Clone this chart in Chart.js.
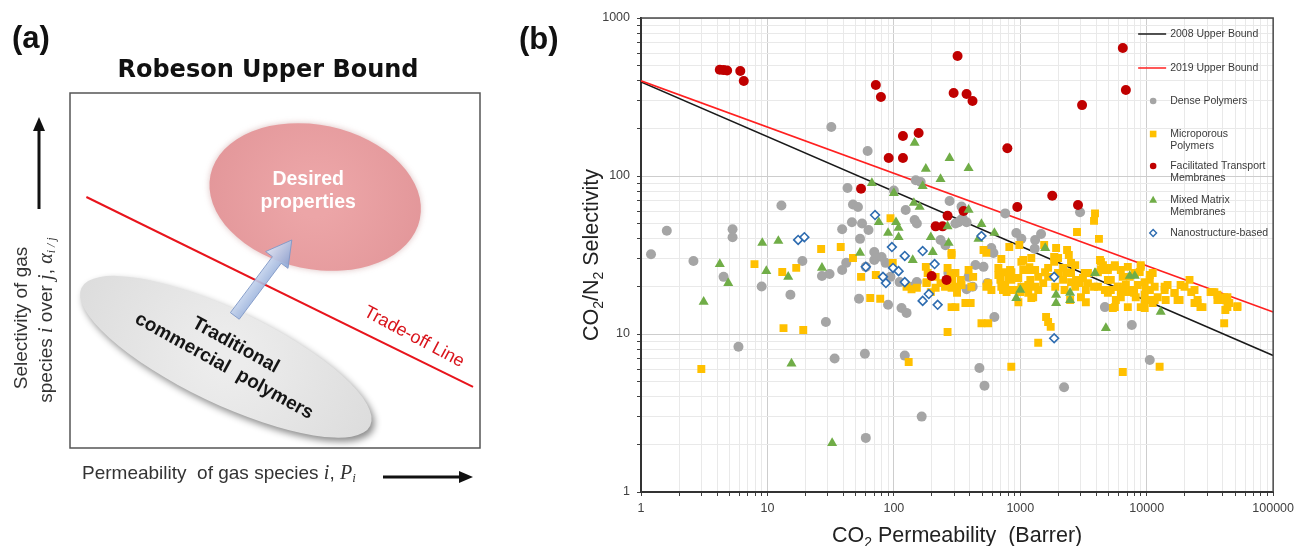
<!DOCTYPE html>
<html lang="en">
<head>
  <meta charset="UTF-8">
  <title>Robeson Upper Bound and CO2/N2 separation performance</title>
  <script src="https://cdn.jsdelivr.net/npm/chart.js"></script>
  <style>
    body {
      margin: 0;
      background: #fff;
      font-family: "Liberation Sans", Arial, sans-serif;
    }
    .figure {
      position: relative;
      width: 1299px;
      height: 546px;
    }
    #panelA { position: absolute; left: 0; top: 0; }
    #panelB { position: absolute; left: 500px; top: 0; }
  </style>
</head>
<body>
  <div class="figure">
    <canvas id="panelA" width="500" height="546"></canvas>
    <canvas id="panelB" width="799" height="546"></canvas>
  </div>

  <script>
    // ---- panel (b) data: [CO2 permeability (Barrer), CO2/N2 selectivity] ----
    const xDecades = [1, 10, 100, 1000, 10000, 100000];
    const yDecades = [1, 10, 100, 1000];

    const bound2008 = [[1, 394], [100000, 7.3]];
    const bound2019 = [[1, 400], [100000, 13.8]];

    const densePolymers = [
      [1.2, 32], [1.6, 45], [2.6, 29], [4.5, 23], [5.3, 46], [5.3, 41], [9, 20], [12.9, 65],
      [18.9, 29], [15.2, 17.7], [5.9, 8.3], [29, 11.9], [27, 23.3], [31, 24], [34, 7], [32, 204],
      [60, 2.2], [166, 3], [59, 7.5], [122, 7.3], [53, 16.7], [90, 15.3], [115, 14.6], [126, 13.6],
      [60, 26.6], [39, 25.4], [62, 144], [43, 84], [47.5, 66], [52, 63.7], [149, 94], [163, 91.6],
      [100, 81], [46.6, 51], [56, 50], [39, 46], [54, 40], [70, 33], [70, 29.4], [42, 28.2],
      [124, 61], [146, 52.6], [152, 50], [80, 30.7], [86, 28.2], [94, 23], [111, 21.3], [276, 69.5],
      [343, 64], [234, 39.4], [256, 36.5], [325, 51], [152, 21.3], [138, 19.9], [339, 52.6], [376, 51],
      [760, 58], [930, 43.6], [1020, 40], [1310, 39.4], [1460, 43], [1300, 34.7], [2970, 59], [590, 35],
      [613, 32.6], [512, 26.6], [442, 27.3], [376, 19.2], [550, 21], [624, 12.8], [4670, 14.8], [7620, 11.4],
      [10570, 6.85], [475, 6.1], [521, 4.7], [2220, 4.6], [390, 23], [420, 19.9], [307, 50], [350, 54],
      [63, 45.5], [270, 24.3]
    ];

    const microporous = [
      [7.9, 27.7], [13.1, 24.7], [16.9, 26.2], [26.6, 34.5], [13.4, 10.9], [19.2, 10.6], [3, 6], [38, 35.5],
      [47.5, 30.3], [55, 23], [72, 23.6], [65, 16.9], [78, 16.7], [94, 54], [98, 28.2], [126, 19.9],
      [138, 19.2], [152, 19.6], [179, 26.6], [185, 24.3], [182, 21.3], [214, 23], [234, 21], [286, 32.6],
      [266, 26.2], [307, 24.3], [339, 22], [286, 19.6], [316, 18.2], [343, 20.4], [307, 14.8], [368, 15.7],
      [266, 10.3], [131, 6.65], [286, 31.6], [281, 23.6], [307, 19.9], [390, 25.4], [424, 23], [410, 19.9],
      [286, 14.8], [405, 15.7], [493, 11.7], [557, 11.7], [849, 6.2], [1386, 8.8], [1600, 12.8], [1660, 11.9],
      [1740, 11.1], [6470, 5.75], [12650, 6.2], [696, 22], [805, 22.6], [539, 19.9], [591, 19], [708, 19.9],
      [1000, 18.4], [1156, 18.2], [1313, 19.9], [1518, 21], [1222, 16.9], [557, 21], [779, 18.4], [908, 19],
      [966, 15.9], [3900, 58], [3830, 52], [2810, 44.2], [4190, 40], [1545, 36.6], [1920, 35], [2345, 34],
      [2420, 31.6], [819, 35.5], [982, 36.6], [512, 34], [539, 32.6], [708, 29.8], [1056, 29.4], [1222, 30.3],
      [1853, 30.7], [1853, 28.6], [1990, 30.3], [730, 24.6], [830, 25.4], [735, 19.6], [850, 22], [1020, 28.6],
      [1056, 25.4], [1180, 26.5], [1020, 19.9], [1200, 22], [1310, 25.4], [1265, 17.1], [1386, 19], [1660, 23],
      [1890, 19.9], [2180, 22], [2300, 24.6], [2520, 28.2], [2240, 19], [2720, 19.9], [2480, 16.4], [3020, 17.1],
      [3300, 15.9], [2760, 22], [3240, 24.3], [3430, 21], [4110, 19.9], [4350, 25.4], [4930, 22], [5200, 19],
      [5700, 16.4], [5400, 14.6], [6240, 17.1], [6840, 20.4], [7350, 23], [8970, 26.6], [9640, 21.3], [10570, 23.6],
      [11560, 19.9], [10185, 16.4], [12210, 17.1], [13860, 19], [14130, 16.4], [16600, 18.2], [18200, 16.4], [21800, 22],
      [23880, 19], [25230, 16.4], [27620, 14.8], [34300, 18.4], [36260, 16.4], [41000, 17.1], [43470, 14.8], [52120, 15],
      [41000, 11.7], [4345, 28.6], [4930, 25.4], [5596, 26.6], [6470, 23], [5915, 19.9], [4670, 19], [7480, 19],
      [8190, 17.1], [9640, 16.4], [8970, 14.8], [11150, 15.7], [14620, 20.4], [18530, 20.4], [17540, 16.4], [23880, 15.7],
      [26610, 14.8], [33100, 18.4], [39630, 16.4], [41870, 14.2], [8800, 24.7], [11150, 24.3], [10570, 22], [4266, 29.4],
      [4507, 27.3], [4930, 26.2], [5596, 27.3], [6240, 25.4], [7090, 26.6], [8050, 24.3], [8970, 27.3], [671, 26.2],
      [1156, 25.4], [1570, 24.6], [2180, 26.2], [2720, 27.3], [3430, 24.3], [2960, 21], [3830, 19.9], [4930, 18.2],
      [6240, 19], [7950, 18.2], [9800, 19], [2520, 21.3], [3300, 19], [290, 22], [254, 19.9], [214, 19.6],
      [196, 18.4], [181, 21], [671, 23.6], [850, 24.6], [760, 20.4], [964, 22.6], [1156, 20.4], [1386, 23],
      [805, 19], [730, 19], [1660, 26.2], [1990, 24.3], [2520, 24.3], [3130, 22.6], [4110, 24.6], [5200, 22],
      [5910, 19.9], [7090, 18.4], [8500, 20.4], [9640, 17.7], [10600, 19], [5600, 14.8], [7090, 14.8], [9640, 14.6],
      [11560, 16.4], [13860, 19.9], [16600, 18.2], [19900, 19.9], [22500, 18.4], [25230, 15.7], [32000, 18.4], [36260, 17.7],
      [43470, 17.1], [45000, 15.7], [52120, 14.8]
    ];

    const facilitated = [
      [4.2, 470], [4.5, 468], [4.8, 465], [6.1, 462], [6.5, 399], [72, 377], [79, 316], [118, 179],
      [157, 187], [91, 130], [118, 130], [55, 83], [266, 56], [214, 48], [243, 48], [199, 23.3],
      [261, 22], [1790, 75], [2860, 65.5], [947, 63.7], [319, 575], [297, 335], [376, 330], [419, 298],
      [790, 150], [3080, 281], [6470, 646], [6840, 350], [356, 60]
    ];

    const mixedMatrix = [
      [3.13, 16], [4.2, 27.7], [4.9, 21], [9.1, 37.7], [12.2, 38.8], [9.8, 25], [14.6, 23], [27, 26.2],
      [15.5, 6.5], [32.5, 2.04], [146, 162], [276, 130], [179, 111], [234, 95.7], [169, 86.4], [67, 90.3],
      [100, 78], [144, 67.5], [160, 63.7], [76, 51], [104, 51], [90, 43.6], [109, 41], [109, 46.9],
      [196, 41], [266, 48], [271, 37.7], [203, 33], [141, 29.4], [54, 32.6], [390, 112], [390, 61],
      [493, 49.7], [624, 43.6], [467, 40], [1574, 35], [3900, 24.3], [7345, 23.3], [8050, 23.3], [1000, 19],
      [930, 16.9], [1920, 17.7], [1920, 15.7], [2477, 18.2], [2477, 16.4], [4755, 10.9], [12900, 13.8]
    ];

    const nanostructure = [
      [17.5, 39.4], [19.6, 41], [71, 56.6], [96.5, 35.5], [122, 31.2], [169, 33.5], [210, 27.7], [60, 26.6],
      [82, 23], [86.5, 21], [98.5, 26.2], [109, 25], [122, 21.3], [169, 16.2], [189, 17.9], [222, 15.3],
      [493, 41.7], [1853, 23], [1853, 9.4]
    ];

    // ---- panel (a) schematic, in 0..10 box units ----
    const tradeOffLine = [[0.4, 7.07], [9.83, 1.72]];
    const desiredCentre = [5.98, 7.07];
    const commercialCentre = [3.8, 2.57];
    const arrowTail = [4.02, 3.72];
    const arrowTip = [5.41, 5.86];

    const pts = arr => arr.map(([x, y]) => ({ x, y }));

    function logGrid(maxExp) {
      const out = [];
      for (let e = 0; e < maxExp; e++) {
        for (let m = 1; m < 10; m++) out.push(m * Math.pow(10, e));
      }
      out.push(Math.pow(10, maxExp));
      return out;
    }

    function drawRich(ctx, parts, x, y, align) {
      let w = 0;
      parts.forEach(p => { ctx.font = p.font; w += ctx.measureText(p.text).width; });
      let cx = align === 'center' ? x - w / 2 : x;
      ctx.textAlign = 'left';
      parts.forEach(p => {
        ctx.font = p.font;
        ctx.fillText(p.text, cx, y + (p.dy || 0));
        cx += ctx.measureText(p.text).width;
      });
    }

    function arrowHead(ctx, x0, y0, x1, y1, w, len) {
      const a = Math.atan2(y1 - y0, x1 - x0);
      ctx.beginPath();
      ctx.moveTo(x0, y0);
      ctx.lineTo(x1 - Math.cos(a) * len, y1 - Math.sin(a) * len);
      ctx.stroke();
      ctx.beginPath();
      ctx.moveTo(x1, y1);
      ctx.lineTo(x1 - Math.cos(a) * len - Math.sin(a) * w, y1 - Math.sin(a) * len + Math.cos(a) * w);
      ctx.lineTo(x1 - Math.cos(a) * len + Math.sin(a) * w, y1 - Math.sin(a) * len - Math.cos(a) * w);
      ctx.closePath();
      ctx.fill();
    }

    // ---------- panel (a) ----------
    const sans = '"Liberation Sans", Arial, sans-serif';
    const serif = '"Liberation Serif", "DejaVu Serif", serif';

    const schemeA = {
      id: 'schemeA',
      beforeDatasetsDraw(chart) {
        const { ctx, scales: { x, y } } = chart;

        // desired properties region
        ctx.save();
        ctx.translate(x.getPixelForValue(desiredCentre[0]), y.getPixelForValue(desiredCentre[1]));
        ctx.rotate(12 * Math.PI / 180);
        let g = ctx.createRadialGradient(0, 0, 20, 0, 0, 110);
        g.addColorStop(0, '#eca5a7');
        g.addColorStop(1, '#e3979a');
        ctx.fillStyle = g;
        ctx.shadowColor = 'rgba(160,80,80,0.35)';
        ctx.shadowBlur = 6;
        ctx.beginPath();
        ctx.ellipse(0, 0, 107, 72, 0, 0, Math.PI * 2);
        ctx.fill();
        ctx.restore();

        // traditional commercial polymers region
        ctx.save();
        ctx.translate(x.getPixelForValue(commercialCentre[0]), y.getPixelForValue(commercialCentre[1]));
        ctx.rotate(25.5 * Math.PI / 180);
        g = ctx.createRadialGradient(0, 0, 20, 0, 0, 165);
        g.addColorStop(0, '#ececec');
        g.addColorStop(1, '#dcdcdc');
        ctx.fillStyle = g;
        ctx.shadowColor = 'rgba(0,0,0,0.45)';
        ctx.shadowBlur = 7;
        ctx.shadowOffsetX = 3;
        ctx.shadowOffsetY = 4;
        ctx.beginPath();
        ctx.ellipse(0, 0, 160, 47, 0, 0, Math.PI * 2);
        ctx.fill();
        ctx.restore();
      },
      afterDatasetsDraw(chart) {
        const { ctx, chartArea: a, scales: { x, y } } = chart;
        ctx.save();

        // blue arrow
        const tx = x.getPixelForValue(arrowTail[0]), ty = y.getPixelForValue(arrowTail[1]);
        const hx = x.getPixelForValue(arrowTip[0]), hy = y.getPixelForValue(arrowTip[1]);
        const L = Math.hypot(hx - tx, hy - ty);
        const ux = (hx - tx) / L, uy = (hy - ty) / L, nx = -uy, ny = ux;
        const sw = 5.5, hw = 14, hl = 25;
        const bx = hx - ux * hl, by = hy - uy * hl;
        ctx.beginPath();
        ctx.moveTo(tx + nx * sw, ty + ny * sw);
        ctx.lineTo(bx + nx * sw, by + ny * sw);
        ctx.lineTo(bx + nx * hw, by + ny * hw);
        ctx.lineTo(hx, hy);
        ctx.lineTo(bx - nx * hw, by - ny * hw);
        ctx.lineTo(bx - nx * sw, by - ny * sw);
        ctx.lineTo(tx - nx * sw, ty - ny * sw);
        ctx.closePath();
        const ag = ctx.createLinearGradient(tx - nx * hw, ty - ny * hw, tx + nx * hw, ty + ny * hw);
        ag.addColorStop(0, '#dde7f7');
        ag.addColorStop(1, '#86a2d4');
        ctx.globalAlpha = 0.9;
        ctx.fillStyle = ag;
        ctx.fill();
        ctx.strokeStyle = '#7f98c6';
        ctx.lineWidth = 1;
        ctx.stroke();
        ctx.globalAlpha = 1;

        // texts inside the schematic
        ctx.textBaseline = 'middle';
        ctx.textAlign = 'center';
        ctx.fillStyle = '#ffffff';
        ctx.font = 'bold 19.5px ' + sans;
        const dx = x.getPixelForValue(desiredCentre[0]) - 7, dy = y.getPixelForValue(desiredCentre[1]) - 6;
        ctx.fillText('Desired', dx, dy - 11);
        ctx.fillText('properties', dx, dy + 12);

        ctx.save();
        ctx.translate(x.getPixelForValue(commercialCentre[0]) + 4, y.getPixelForValue(commercialCentre[1]) - 1);
        ctx.rotate(29 * Math.PI / 180);
        ctx.fillStyle = '#151515';
        ctx.font = 'bold 19px ' + sans;
        ctx.fillText('Traditional', 0, -12);
        ctx.fillText('commercial  polymers', 0, 12);
        ctx.restore();

        ctx.save();
        ctx.translate(414, 337);
        ctx.rotate(28 * Math.PI / 180);
        ctx.fillStyle = '#d9141c';
        ctx.font = '18px ' + sans;
        ctx.fillText('Trade-off Line', 0, 0);
        ctx.restore();

        // frame
        ctx.strokeStyle = '#555';
        ctx.lineWidth = 1.5;
        ctx.strokeRect(a.left, a.top, a.right - a.left, a.bottom - a.top);

        // panel letter and title
        ctx.fillStyle = '#111';
        ctx.textAlign = 'left';
        ctx.font = 'bold 31px ' + sans;
        ctx.fillText('(a)', 12, 39);
        ctx.textAlign = 'center';
        ctx.font = 'bold 24px "DejaVu Sans", sans-serif';
        ctx.fillText('Robeson Upper Bound', 268, 71);

        // axis labels with arrows
        ctx.fillStyle = '#333';
        ctx.strokeStyle = '#111';
        drawRich(ctx, [
          { text: 'Permeability  of gas species ', font: '19px ' + sans },
          { text: 'i', font: 'italic 20px ' + serif },
          { text: ', ', font: '19px ' + sans },
          { text: 'P', font: 'italic 20px ' + serif },
          { text: 'i', font: 'italic 13px ' + serif, dy: 5 }
        ], 82, 474, 'left');
        ctx.fillStyle = '#111';
        ctx.lineWidth = 3;
        arrowHead(ctx, 383, 477, 473, 477, 6, 14);
        arrowHead(ctx, 39, 209, 39, 117, 6, 14);

        ctx.fillStyle = '#333';
        ctx.save();
        ctx.translate(22, 318);
        ctx.rotate(-Math.PI / 2);
        drawRich(ctx, [{ text: 'Selectivity of gas', font: '19px ' + sans }], 0, 0, 'center');
        ctx.restore();
        ctx.save();
        ctx.translate(47, 320);
        ctx.rotate(-Math.PI / 2);
        drawRich(ctx, [
          { text: 'species ', font: '19px ' + sans },
          { text: 'i', font: 'italic 20px ' + serif },
          { text: ' over ', font: '19px ' + sans },
          { text: 'j', font: 'italic 20px ' + serif },
          { text: ', ', font: '19px ' + sans },
          { text: 'α', font: 'italic 20px ' + serif },
          { text: 'i / j', font: 'italic 12px ' + serif, dy: 5 }
        ], 0, 0, 'center');
        ctx.restore();

        ctx.restore();
      }
    };

    new Chart(document.getElementById('panelA'), {
      type: 'scatter',
      data: {
        datasets: [{
          label: 'Trade-off Line',
          data: pts(tradeOffLine),
          showLine: true,
          borderColor: '#e8141c',
          borderWidth: 2,
          pointRadius: 0
        }]
      },
      options: {
        responsive: false,
        animation: false,
        events: [],
        layout: { padding: { left: 70, top: 93, right: 20, bottom: 98 } },
        scales: {
          x: { type: 'linear', min: 0, max: 10, display: false },
          y: { type: 'linear', min: 0, max: 10, display: false }
        },
        plugins: { legend: { display: false }, tooltip: { enabled: false } }
      },
      plugins: [schemeA]
    });

    // ---------- panel (b) ----------
    const legendItems = [
      { label: ['2008 Upper Bound'], kind: 'line', color: '#1a1a1a', dy: 16 },
      { label: ['2019 Upper Bound'], kind: 'line', color: '#ff2020', dy: 50 },
      { label: ['Dense Polymers'], kind: 'circle', color: '#a5a5a5', dy: 83 },
      { label: ['Microporous', 'Polymers'], kind: 'rect', color: '#ffc000', dy: 116 },
      { label: ['Facilitated Transport', 'Membranes'], kind: 'circle', color: '#c00000', dy: 148 },
      { label: ['Mixed Matrix', 'Membranes'], kind: 'triangle', color: '#70ad47', dy: 182 },
      { label: ['Nanostructure-based'], kind: 'diamond', color: '#2e6cb0', dy: 215 }
    ];

    const frameB = {
      id: 'frameB',
      afterDraw(chart) {
        const { ctx, chartArea: a } = chart;
        ctx.save();
        ctx.strokeStyle = '#4a4a4a';
        ctx.lineWidth = 1.5;
        ctx.beginPath();
        ctx.moveTo(a.left, a.top);
        ctx.lineTo(a.right, a.top);
        ctx.lineTo(a.right, a.bottom);
        ctx.stroke();

        // legend inside the plot
        ctx.textBaseline = 'middle';
        ctx.textAlign = 'left';
        ctx.font = '10.5px ' + sans;
        legendItems.forEach(it => {
          const yy = a.top + it.dy;
          const mx = a.right - 120;
          ctx.fillStyle = it.color;
          ctx.strokeStyle = it.color;
          if (it.kind === 'line') {
            ctx.lineWidth = 1.5;
            ctx.beginPath(); ctx.moveTo(a.right - 135, yy); ctx.lineTo(a.right - 107, yy); ctx.stroke();
          } else if (it.kind === 'circle') {
            ctx.beginPath(); ctx.arc(mx, yy, 3.3, 0, Math.PI * 2); ctx.fill();
          } else if (it.kind === 'rect') {
            ctx.fillRect(mx - 3.3, yy - 3.3, 6.6, 6.6);
          } else if (it.kind === 'triangle') {
            ctx.beginPath(); ctx.moveTo(mx, yy - 4.2); ctx.lineTo(mx + 4, yy + 2.8); ctx.lineTo(mx - 4, yy + 2.8); ctx.closePath(); ctx.fill();
          } else {
            ctx.lineWidth = 1.4;
            ctx.fillStyle = '#fff';
            ctx.beginPath(); ctx.moveTo(mx, yy - 3.4); ctx.lineTo(mx + 3.4, yy); ctx.lineTo(mx, yy + 3.4); ctx.lineTo(mx - 3.4, yy); ctx.closePath();
            ctx.fill(); ctx.stroke();
          }
          ctx.fillStyle = '#3a3a3a';
          it.label.forEach((t, i) => ctx.fillText(t, a.right - 103, yy + i * 12.5));
        });

        // axis titles with subscripts
        ctx.fillStyle = '#222';
        ctx.textBaseline = 'alphabetic';
        drawRich(ctx, [
          { text: 'CO', font: '21.5px ' + sans },
          { text: '2', font: '14px ' + sans, dy: 5 },
          { text: ' Permeability  (Barrer)', font: '21.5px ' + sans }
        ], (a.left + a.right) / 2, a.bottom + 50, 'center');
        ctx.save();
        ctx.translate(a.left - 43, (a.top + a.bottom) / 2);
        ctx.rotate(-Math.PI / 2);
        drawRich(ctx, [
          { text: 'CO', font: '21.5px ' + sans },
          { text: '2', font: '14px ' + sans, dy: 5 },
          { text: '/N', font: '21.5px ' + sans },
          { text: '2', font: '14px ' + sans, dy: 5 },
          { text: ' Selectivity', font: '21.5px ' + sans }
        ], 0, 0, 'center');
        ctx.restore();

        ctx.fillStyle = '#111';
        ctx.textBaseline = 'middle';
        ctx.font = 'bold 31px ' + sans;
        ctx.fillText('(b)', 19, 40);
        ctx.restore();
      }
    };

    const gridColor = decades => c => (c.tick && decades.includes(c.tick.value)) ? '#cdcdcd' : '#e9e9e9';

    new Chart(document.getElementById('panelB'), {
      type: 'scatter',
      data: {
        datasets: [
          { label: '2008 Upper Bound', data: pts(bound2008), showLine: true, borderColor: '#1a1a1a', borderWidth: 1.6, pointRadius: 0, order: 10 },
          { label: '2019 Upper Bound', data: pts(bound2019), showLine: true, borderColor: '#ff2020', borderWidth: 1.6, pointRadius: 0, order: 9 },
          { label: 'Dense Polymers', data: pts(densePolymers), pointStyle: 'circle', pointRadius: 5, pointBackgroundColor: '#a5a5a5', pointBorderWidth: 0, order: 5 },
          { label: 'Microporous Polymers', data: pts(microporous), pointStyle: 'rect', pointRadius: 5.6, pointBackgroundColor: '#ffc000', pointBorderWidth: 0, order: 4 },
          { label: 'Facilitated Transport Membranes', data: pts(facilitated), pointStyle: 'circle', pointRadius: 5, pointBackgroundColor: '#c00000', pointBorderWidth: 0, order: 3 },
          { label: 'Mixed Matrix Membranes', data: pts(mixedMatrix), pointStyle: 'triangle', pointRadius: 5.8, pointBackgroundColor: '#70ad47', pointBorderWidth: 0, order: 2 },
          { label: 'Nanostructure-based', data: pts(nanostructure), pointStyle: 'rectRot', pointRadius: 4.4, pointBackgroundColor: '#ffffff', pointBorderColor: '#2e6cb0', pointBorderWidth: 1.6, order: 1 }
        ]
      },
      options: {
        responsive: false,
        animation: false,
        events: [],
        layout: { padding: { left: 0, top: 18, right: 23, bottom: 0 } },
        scales: {
          x: {
            type: 'logarithmic',
            min: 1,
            max: 100000,
            afterFit: s => { s.height = 54; },
            afterBuildTicks: s => { s.ticks = logGrid(5).map(v => ({ value: v })); },
            ticks: {
              autoSkip: false,
              maxRotation: 0,
              padding: 5,
              color: '#404040',
              font: { size: 12.5, family: sans },
              callback: v => xDecades.includes(v) ? String(v) : ''
            },
            grid: { color: gridColor(xDecades), lineWidth: 1, tickLength: 4, tickColor: '#404040' },
            border: { display: true, color: '#333', width: 2 }
          },
          y: {
            type: 'logarithmic',
            min: 1,
            max: 1000,
            afterFit: s => { s.width = 141; },
            afterBuildTicks: s => { s.ticks = logGrid(3).map(v => ({ value: v })); },
            ticks: {
              autoSkip: false,
              padding: 7,
              color: '#404040',
              font: { size: 12.5, family: sans },
              callback: v => yDecades.includes(v) ? String(v) : ''
            },
            grid: { color: gridColor(yDecades), lineWidth: 1, tickLength: 4, tickColor: '#404040' },
            border: { display: true, color: '#333', width: 2 }
          }
        },
        plugins: { legend: { display: false }, tooltip: { enabled: false } }
      },
      plugins: [frameB]
    });
  </script>
</body>
</html>
